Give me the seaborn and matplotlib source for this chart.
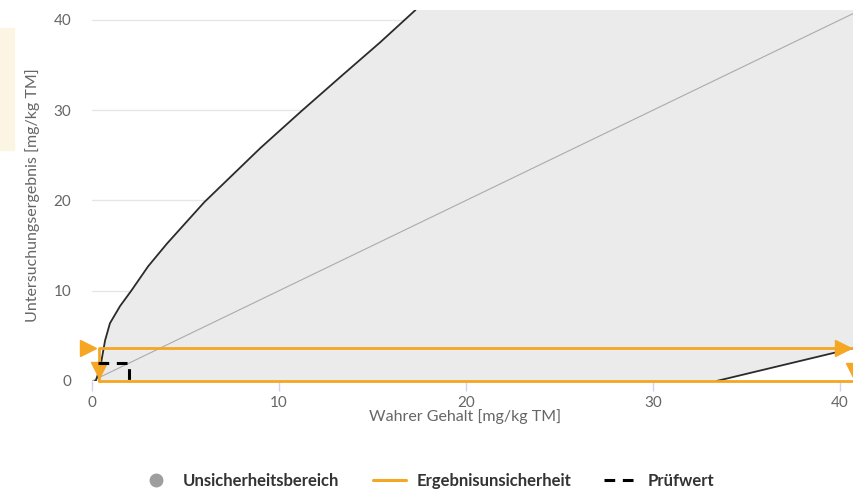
import matplotlib
matplotlib.use("Agg")
import matplotlib.pyplot as plt
from matplotlib.lines import Line2D
from matplotlib.patches import Rectangle
import seaborn as sns
import pandas as pd

# Upper bound of the uncertainty region (true content -> result)
upper_x = [0.15, 0.2, 0.45, 0.7, 0.96, 1.5, 2.1, 3.0, 4.0, 5.0, 6.0, 7.5, 9.0, 11.2, 13.4, 15.4, 17.3]
upper_y = [0.0, 0.0, 1.6, 4.5, 6.4, 8.3, 10.0, 12.7, 15.2, 17.5, 19.8, 22.8, 25.8, 29.9, 33.9, 37.5, 41.1]

# Lower bound of the uncertainty region
lower_x = [33.4, 40.75]
lower_y = [0.0, 3.65]

# Identity line (result equals true content)
ident_x = [0, 41]
ident_y = [0, 41]

# Result uncertainty: measured value and resulting true-content interval
result_value = 3.65
result_lo = 0.4
result_hi = 40.75

# Test value (Prüfwert)
pruefwert = 2.0

x_ticks = [0, 10, 20, 30, 40]
y_ticks = [0, 10, 20, 30, 40]
X_MAX = 40.75
Y_MAX = 41.1

ORANGE = "#F5A623"
GREY_TXT = "#666666"

sns.set_theme(style="white")
plt.rcParams["font.family"] = ["Lato", "DejaVu Sans"]

fig = plt.figure(figsize=(8.54, 5.0), dpi=100)
ax = fig.add_axes([92 / 854, 119 / 500, 762 / 854, 371 / 500])

# shaded uncertainty region
poly_x = upper_x + [X_MAX] + lower_x[::-1]
poly_y = upper_y + [Y_MAX] + lower_y[::-1]
ax.fill(poly_x, poly_y, color="#EBEBEB", zorder=1, lw=0)

for v in y_ticks:
    ax.axhline(v, color="#E6E6E6", lw=1, zorder=0.5)

line_kw = dict(ax=ax, sort=False, estimator=None)
sns.lineplot(x=ident_x, y=ident_y, color="#ABABAB", lw=0.8, zorder=2, **line_kw)
sns.lineplot(x=upper_x, y=upper_y, color="#2B2B2B", lw=1.3, zorder=3, **line_kw)
sns.lineplot(x=lower_x, y=lower_y, color="#2B2B2B", lw=1.3, zorder=3, **line_kw)

# result uncertainty frame
frame = pd.DataFrame({
    "x": [result_lo, result_lo, result_hi, result_hi, result_lo],
    "y": [0, result_value, result_value, 0, 0],
})
sns.lineplot(data=frame, x="x", y="y", color=ORANGE, lw=2.0, zorder=4, clip_on=False,
             **line_kw)
ax.plot([result_lo - 0.6], [result_value], marker=">", ms=12, color=ORANGE, clip_on=False, zorder=5, lw=0)
ax.plot([result_hi - 0.6], [result_value], marker=">", ms=12, color=ORANGE, clip_on=False, zorder=5, lw=0)
ax.plot([result_lo], [1.2], marker="v", ms=12, color=ORANGE, clip_on=False, zorder=5, lw=0)
ax.plot([result_hi], [1.1], marker="v", ms=12, color=ORANGE, clip_on=True, zorder=5, lw=0)

# test value marker
ax.plot([0.3, pruefwert, pruefwert], [pruefwert, pruefwert, 0], color="black", lw=2.2,
        dashes=(3.5, 2.5), zorder=6)

ax.set_xlim(0, X_MAX)
ax.set_ylim(0, Y_MAX)
ax.set_xticks(x_ticks)
ax.set_yticks(y_ticks)
for s in ax.spines.values():
    s.set_visible(False)
ax.tick_params(axis="y", length=0, pad=15, labelsize=11, labelcolor=GREY_TXT)
ax.tick_params(axis="x", length=7, width=1, color="#CCD6EB", pad=4, labelsize=11,
               labelcolor=GREY_TXT, bottom=True)
ax.set_xlabel("Wahrer Gehalt [mg/kg TM]", fontsize=11.5, color=GREY_TXT, va="center")
ax.set_ylabel("Untersuchungsergebnis [mg/kg TM]", fontsize=11.5, color=GREY_TXT)
ax.xaxis.set_label_coords(0.49, -(417 - 381) / 371)
ax.yaxis.set_label_coords(-(92 - 40) / 762, 0.5)
ax.set_facecolor("white")

# small panel at the left edge
fig.patches.append(Rectangle((0, 1 - 150 / 500), 14 / 854, 122 / 500,
                             transform=fig.transFigure, color="#FCF5E3", zorder=0))

handles = [
    Line2D([], [], marker="o", ls="none", ms=9, color="#9E9E9E"),
    Line2D([], [], color=ORANGE, lw=2.2),
    Line2D([], [], color="black", lw=2.2, dashes=(3.5, 2.5)),
]
labels = ["Unsicherheitsbereich", "Ergebnisunsicherheit", "Prüfwert"]
fig.legend(handles, labels, loc="center", bbox_to_anchor=(0.5, 1 - 481 / 500), ncol=3,
           frameon=False, prop={"family": ["Lato", "DejaVu Sans"], "weight": "bold", "size": 12},
           labelcolor="#333333", handlelength=2.0, columnspacing=2.0, handletextpad=0.6)

fig.savefig("out.png", dpi=100)
